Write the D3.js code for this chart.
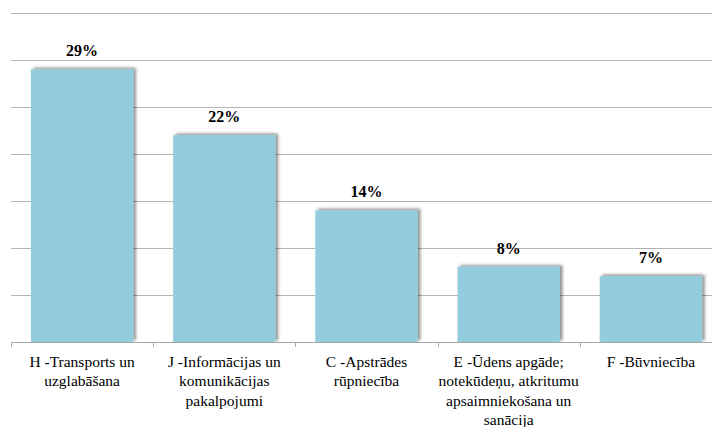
<!DOCTYPE html>
<html>
<head>
<meta charset="utf-8">
<script src="https://cdn.jsdelivr.net/npm/d3@7"></script>
<style>
  html, body { margin: 0; padding: 0; background: #fff; }
  svg { display: block; overflow: hidden; }
</style>
</head>
<body>
<svg id="chart" width="712" height="427"></svg>
<script>
// Sectors and their share (%)
const categories = ["H", "J", "C", "E", "F"];
const values = [29, 22, 14, 8, 7];
const categoryLabels = [
  ["H -Transports un", "uzglabāšana"],
  ["J -Informācijas un", "komunikācijas", "pakalpojumi"],
  ["C -Apstrādes", "rūpniecība"],
  ["E -Ūdens apgāde;", "notekūdeņu, atkritumu", "apsaimniekošana un", "sanācija"],
  ["F -Būvniecība"]
];
const yTicks = [0, 5, 10, 15, 20, 25, 30, 35];

const FONT = "Liberation Serif";
const svg = d3.select("#chart");
const W = 712;
const plot = { left: 11, right: 722, top: 13, bottom: 342 };

const x = d3.scaleBand()
  .domain(categories)
  .range([plot.left, plot.right])
  .paddingInner(0.28)
  .paddingOuter(0.14);

const y = d3.scaleLinear()
  .domain([0, 35])
  .range([plot.bottom, plot.top]);

// Soft shadow behind bars
const defs = svg.append("defs");
const f = defs.append("filter").attr("id", "barShadow")
  .attr("x", "-10%").attr("y", "-10%").attr("width", "130%").attr("height", "130%");
f.append("feDropShadow")
  .attr("dx", 2.5).attr("dy", -1.5)
  .attr("stdDeviation", 1.4)
  .attr("flood-color", "#000")
  .attr("flood-opacity", 0.45);

// Horizontal gridlines
svg.append("g").selectAll("line")
  .data(yTicks.filter(d => d > 0))
  .join("line")
  .attr("x1", plot.left).attr("x2", W)
  .attr("y1", d => Math.round(y(d)) + 0.5)
  .attr("y2", d => Math.round(y(d)) + 0.5)
  .attr("stroke", "#b4b4b4")
  .attr("stroke-width", 1);

// Bars
svg.append("g").selectAll("rect")
  .data(values)
  .join("rect")
  .attr("x", (d, i) => x(categories[i]))
  .attr("y", d => y(d))
  .attr("width", x.bandwidth())
  .attr("height", d => y(0) - y(d))
  .attr("fill", "#93cddd")
  .attr("filter", "url(#barShadow)");

// Category axis with boundary ticks
const step = x.step();
const axis = svg.append("g");
axis.append("line")
  .attr("x1", plot.left).attr("x2", W)
  .attr("y1", plot.bottom + 0.5).attr("y2", plot.bottom + 0.5)
  .attr("stroke", "#a6a6a6");
axis.selectAll("line.tick")
  .data(d3.range(categories.length + 1))
  .join("line")
  .attr("class", "tick")
  .attr("x1", i => Math.round(plot.left + i * step) + 0.5)
  .attr("x2", i => Math.round(plot.left + i * step) + 0.5)
  .attr("y1", plot.bottom)
  .attr("y2", plot.bottom + 5)
  .attr("stroke", "#a6a6a6");

// Category labels
const lab = svg.append("g")
  .attr("font-family", FONT)
  .attr("font-size", 15.5)
  .attr("fill", "#000")
  .attr("text-anchor", "middle");
categoryLabels.forEach((lines, i) => {
  const cx = x(categories[i]) + x.bandwidth() / 2;
  const t = lab.append("text").attr("x", cx).attr("y", 367);
  lines.forEach((ln, j) => {
    t.append("tspan").attr("x", cx).attr("dy", j === 0 ? 0 : 19.3).text(ln);
  });
});

// Value labels
svg.append("g").selectAll("text")
  .data(values)
  .join("text")
  .attr("x", (d, i) => x(categories[i]) + x.bandwidth() / 2)
  .attr("y", d => y(d) - 13)
  .attr("text-anchor", "middle")
  .attr("font-family", FONT)
  .attr("font-weight", "bold")
  .attr("font-size", 16)
  .attr("fill", "#000")
  .text(d => d + "%");
</script>
</body>
</html>
